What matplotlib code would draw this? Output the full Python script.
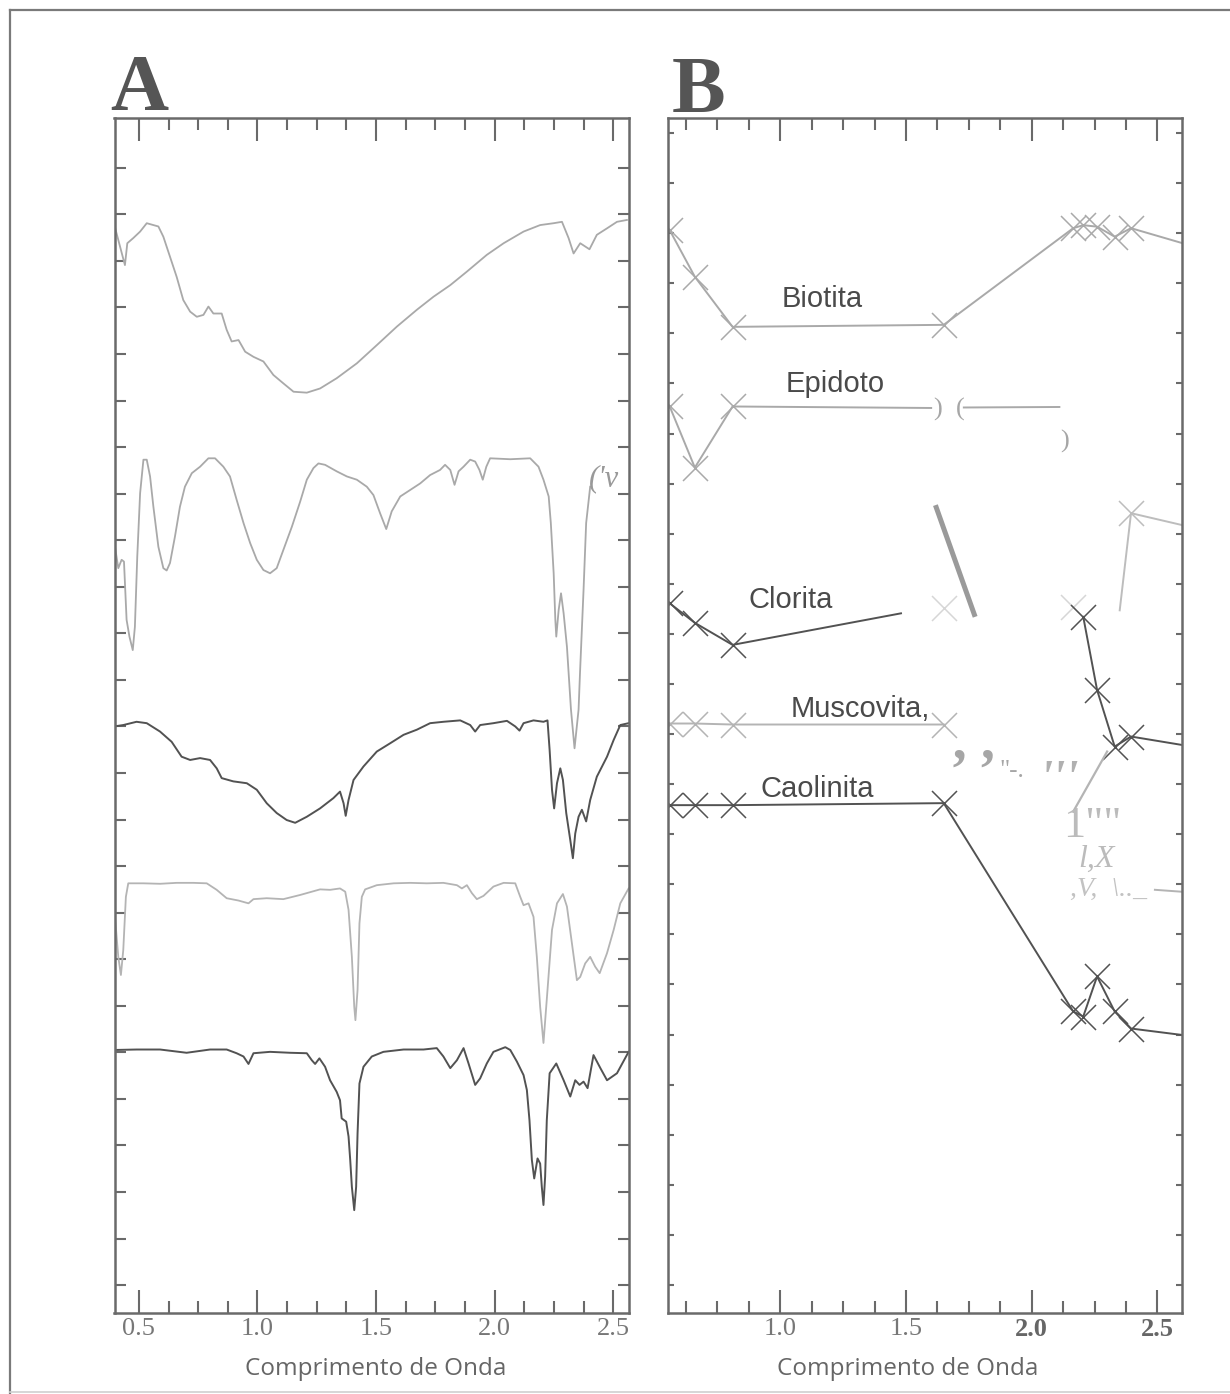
import matplotlib
matplotlib.use('Agg')
import matplotlib.pyplot as plt
from matplotlib.ticker import MultipleLocator, FixedLocator
from matplotlib.lines import Line2D

# ---------------- DATA ----------------
# Panel A: laboratory spectra (wavelength in um, reflectance with vertical offset, in tick units)
biotita_A_x = [0.40, 0.413, 0.441, 0.451, 0.476, 0.505, 0.533, 0.561, 0.582, 0.603, 0.631, 0.659, 0.687,
               0.716, 0.744, 0.772, 0.793, 0.814, 0.849, 0.870, 0.891, 0.920, 0.948, 0.983, 1.025, 1.067,
               1.109, 1.152, 1.208, 1.264, 1.334, 1.419, 1.503, 1.588, 1.672, 1.742, 1.813, 1.883, 1.967,
               2.038, 2.122, 2.192, 2.249, 2.284, 2.312, 2.333, 2.361, 2.400, 2.431, 2.474, 2.516, 2.558]
biotita_A_y = [22.70, 22.45, 21.91, 22.38, 22.49, 22.63, 22.81, 22.77, 22.74, 22.52, 22.09, 21.66, 21.16,
               20.91, 20.80, 20.84, 21.02, 20.87, 20.87, 20.52, 20.27, 20.30, 20.05, 19.94, 19.84, 19.55,
               19.37, 19.19, 19.17, 19.26, 19.48, 19.80, 20.19, 20.59, 20.95, 21.23, 21.48, 21.77, 22.13,
               22.38, 22.63, 22.77, 22.81, 22.84, 22.49, 22.16, 22.38, 22.25, 22.56, 22.70, 22.84, 22.88]

epidoto_A_x = [0.399, 0.413, 0.427, 0.437, 0.448, 0.460, 0.474, 0.483, 0.493, 0.505, 0.519, 0.533, 0.547,
               0.561, 0.582, 0.603, 0.617, 0.631, 0.652, 0.673, 0.694, 0.723, 0.758, 0.793, 0.821, 0.856,
               0.884, 0.912, 0.941, 0.969, 0.997, 1.025, 1.053, 1.081, 1.109, 1.145, 1.180, 1.208, 1.236,
               1.257, 1.285, 1.334, 1.377, 1.419, 1.461, 1.489, 1.517, 1.543, 1.566, 1.602, 1.644, 1.686,
               1.728, 1.770, 1.791, 1.813, 1.831, 1.848, 1.869, 1.897, 1.918, 1.936, 1.950, 1.965, 1.981,
               2.066, 2.150, 2.185, 2.206, 2.228, 2.237, 2.249, 2.256, 2.260, 2.270, 2.280, 2.291, 2.305,
               2.322, 2.337, 2.354, 2.360, 2.375, 2.386, 2.403]
epidoto_A_y = [15.86, 15.40, 15.58, 15.54, 14.29, 13.93, 13.64, 14.14, 15.65, 17.01, 17.73, 17.73, 17.37,
               16.72, 15.86, 15.40, 15.35, 15.51, 16.08, 16.72, 17.15, 17.44, 17.58, 17.76, 17.76, 17.58,
               17.37, 16.87, 16.37, 15.94, 15.58, 15.36, 15.29, 15.40, 15.79, 16.29, 16.83, 17.30, 17.55,
               17.65, 17.62, 17.48, 17.37, 17.30, 17.15, 16.97, 16.58, 16.24, 16.62, 16.94, 17.08, 17.22,
               17.40, 17.51, 17.62, 17.51, 17.19, 17.48, 17.58, 17.73, 17.69, 17.51, 17.30, 17.58, 17.76,
               17.74, 17.76, 17.58, 17.30, 16.94, 16.37, 15.29, 14.29, 13.93, 14.50, 14.86, 14.43, 13.71,
               12.36, 11.53, 12.36, 13.14, 14.93, 16.37, 17.15]

clorita_A_x = [0.397, 0.434, 0.490, 0.533, 0.589, 0.638, 0.680, 0.716, 0.758, 0.800, 0.828, 0.849, 0.898,
               0.955, 0.997, 1.039, 1.081, 1.123, 1.159, 1.208, 1.264, 1.320, 1.348, 1.363, 1.372, 1.384,
               1.405, 1.447, 1.503, 1.560, 1.616, 1.672, 1.728, 1.784, 1.855, 1.897, 1.918, 1.939, 1.995,
               2.052, 2.087, 2.105, 2.122, 2.164, 2.206, 2.223, 2.232, 2.242, 2.251, 2.263, 2.277, 2.288,
               2.302, 2.319, 2.330, 2.340, 2.354, 2.368, 2.386, 2.403, 2.431, 2.474, 2.502, 2.530, 2.565]
clorita_A_y = [12.00, 12.03, 12.10, 12.07, 11.89, 11.67, 11.35, 11.28, 11.32, 11.28, 11.10, 10.89, 10.82,
               10.78, 10.64, 10.35, 10.14, 9.99, 9.93, 10.06, 10.24, 10.46, 10.60, 10.35, 10.08, 10.42,
               10.85, 11.14, 11.46, 11.64, 11.82, 11.93, 12.07, 12.10, 12.13, 12.03, 11.89, 12.03, 12.07,
               12.12, 12.00, 11.91, 12.07, 12.13, 12.10, 12.13, 11.49, 10.64, 10.24, 10.78, 11.10, 10.85,
               10.14, 9.56, 9.17, 9.70, 10.06, 10.21, 9.96, 10.42, 10.92, 11.35, 11.71, 12.03, 12.07]

muscovita_A_x = [0.397, 0.399, 0.413, 0.424, 0.434, 0.445, 0.455, 0.519, 0.589, 0.659, 0.730, 0.786, 0.828,
                 0.870, 0.920, 0.962, 0.983, 1.039, 1.109, 1.180, 1.264, 1.306, 1.348, 1.370, 1.384, 1.398,
                 1.408, 1.413, 1.422, 1.430, 1.440, 1.454, 1.503, 1.574, 1.644, 1.714, 1.784, 1.841, 1.862,
                 1.883, 1.904, 1.925, 1.953, 1.995, 2.038, 2.087, 2.108, 2.122, 2.143, 2.164, 2.178, 2.192,
                 2.206, 2.223, 2.242, 2.263, 2.288, 2.305, 2.326, 2.347, 2.361, 2.382, 2.403, 2.424, 2.443,
                 2.474, 2.502, 2.530, 2.565]
muscovita_A_y = [7.48, 7.91, 7.05, 6.66, 7.20, 8.34, 8.63, 8.63, 8.62, 8.64, 8.64, 8.63, 8.49,
                 8.31, 8.26, 8.20, 8.29, 8.31, 8.29, 8.38, 8.50, 8.49, 8.52, 8.45, 8.06, 7.05,
                 5.98, 5.69, 6.34, 7.77, 8.34, 8.50, 8.59, 8.63, 8.64, 8.63, 8.64, 8.59, 8.52,
                 8.59, 8.42, 8.29, 8.36, 8.56, 8.64, 8.63, 8.34, 8.16, 8.20, 7.91, 7.05, 5.98,
                 5.20, 6.34, 7.63, 8.20, 8.40, 8.13, 7.34, 6.55, 6.62, 6.91, 7.05, 6.84, 6.70,
                 7.13, 7.63, 8.20, 8.52]

caolinita_A_x = [0.397, 0.490, 0.589, 0.701, 0.800, 0.870, 0.912, 0.941, 0.962, 0.983, 1.053, 1.137, 1.208,
                 1.229, 1.243, 1.261, 1.285, 1.306, 1.334, 1.348, 1.355, 1.374, 1.384, 1.391, 1.398, 1.408,
                 1.416, 1.422, 1.430, 1.447, 1.482, 1.531, 1.616, 1.700, 1.756, 1.784, 1.813, 1.841, 1.869,
                 1.890, 1.918, 1.939, 1.967, 1.995, 2.045, 2.066, 2.094, 2.122, 2.136, 2.147, 2.157, 2.167,
                 2.181, 2.192, 2.199, 2.206, 2.213, 2.220, 2.232, 2.260, 2.291, 2.319, 2.340, 2.358, 2.375,
                 2.392, 2.417, 2.446, 2.474, 2.516, 2.565]
caolinita_A_y = [5.05, 5.06, 5.06, 4.99, 5.06, 5.06, 4.98, 4.91, 4.75, 4.98, 5.01, 4.99, 4.98,
                 4.83, 4.75, 4.87, 4.69, 4.40, 4.15, 3.97, 3.58, 3.51, 3.19, 2.69, 2.11, 1.61,
                 2.11, 3.26, 4.33, 4.69, 4.91, 5.01, 5.06, 5.06, 5.09, 4.91, 4.66, 4.83, 5.09,
                 4.76, 4.30, 4.44, 4.76, 5.01, 5.11, 5.05, 4.80, 4.51, 4.19, 3.54, 2.69, 2.29,
                 2.72, 2.61, 2.11, 1.72, 2.33, 3.54, 4.55, 4.76, 4.40, 4.05, 4.40, 4.30, 4.37,
                 4.23, 4.94, 4.66, 4.40, 4.55, 5.01]

# Panel B: spectra resampled to the ASTER VNIR/SWIR bands (last point lies at the plot edge)
bandas = [0.56, 0.66, 0.81, 1.65, 2.165, 2.205, 2.26, 2.33, 2.395, 2.60]
biotita_B = [21.06, 20.13, 19.13, 19.17, 21.10, 21.16, 21.13, 20.93, 21.10, 20.80]
caolinita_B = [9.58, 9.58, 9.58, 9.62, 5.46, 5.36, 6.16, 5.46, 5.12, 4.99]

epidoto_B1_x = [0.56, 0.66, 0.81, 1.60]
epidoto_B1_y = [17.54, 16.32, 17.54, 17.51]
epidoto_B2_x = [1.73, 2.11]
epidoto_B2_y = [17.52, 17.53]
epidoto_B3_x = [2.35, 2.395, 2.60]
epidoto_B3_y = [13.47, 15.41, 15.17]

clorita_B1_x = [0.56, 0.66, 0.81, 1.48]
clorita_B1_y = [13.61, 13.22, 12.78, 13.41]
clorita_Bf_x = [1.65, 2.165]
clorita_Bf_y = [13.51, 13.54]
clorita_B2_x = [2.205, 2.26, 2.33, 2.395, 2.60]
clorita_B2_y = [13.34, 11.88, 10.75, 10.95, 10.78]

muscovita_B1_x = [0.56, 0.66, 0.81, 1.65]
muscovita_B1_y = [11.21, 11.21, 11.19, 11.19]
muscovita_B2_x = [2.165, 2.30]
muscovita_B2_y = [9.45, 10.65]
muscovita_B3_x = [2.49, 2.60]
muscovita_B3_y = [7.89, 7.85]

artefato_x = [1.617, 1.775]
artefato_y = [15.57, 13.34]

minerais = ["Biotita", "Epidoto", "Clorita", "Muscovita,", "Caolinita"]
xticks_major = [0.5, 1.0, 1.5, 2.0, 2.5]

# ---------------- FIGURE ----------------
W, H = 1230, 1394
fig = plt.figure(figsize=(W / 100, H / 100), dpi=100)

def fx(px):
    return px / W

def fy(py):
    return 1 - py / H

LIGHT = '#a9a9a9'
LIGHT2 = '#b4b4b4'
DARK = '#525252'
SPINE = '#6a6a6a'
SERIF = ['Liberation Serif', 'DejaVu Serif']
SANS = ['Liberation Sans', 'DejaVu Sans']

axA = fig.add_axes([fx(114.5), fy(1313), (628.6 - 114.5) / W, (1313 - 118) / H])
axB = fig.add_axes([fx(668.2), fy(1313), (1181.8 - 668.2) / W, (1313 - 118) / H])

def style(ax, ylen, nyt):
    for s in ax.spines.values():
        s.set_color(SPINE)
        s.set_linewidth(1.8)
    ax.xaxis.set_major_locator(FixedLocator(xticks_major))
    ax.xaxis.set_minor_locator(MultipleLocator(0.125))
    ax.yaxis.set_major_locator(FixedLocator(list(range(nyt))))
    ax.tick_params(axis='x', which='major', direction='in', top=True, bottom=True,
                   length=16.5, width=1.5, color=SPINE, pad=3.5,
                   labelsize=19, labelcolor='#777777')
    ax.tick_params(axis='x', which='minor', direction='in', top=True, bottom=True,
                   length=8.5, width=1.5, color=SPINE)
    ax.tick_params(axis='y', which='major', direction='in', left=True, right=True,
                   length=ylen, width=1.5, color=SPINE, labelleft=False)

# ----- Panel A -----
axA.plot(biotita_A_x, biotita_A_y, color=LIGHT, lw=1.3)
axA.plot(epidoto_A_x, epidoto_A_y, color=LIGHT, lw=1.3)
axA.plot(clorita_A_x, clorita_A_y, color=DARK, lw=1.4)
axA.plot(muscovita_A_x, muscovita_A_y, color=LIGHT2, lw=1.3)
axA.plot(caolinita_A_x, caolinita_A_y, color=DARK, lw=1.4)
axA.set_xlim(0.397, 2.565)
axA.set_ylim(-0.60, 25.07)
style(axA, 7.9, 25)
axA.set_xticklabels(['0.5', '1.0', '1.5', '2.0', '2.5'], fontfamily=SERIF)

# ----- Panel B -----
mk = dict(marker='x', markersize=18, markeredgewidth=1.1)
axB.plot(bandas, biotita_B, color=LIGHT, lw=1.4, markevery=list(range(9)), **mk)
axB.plot(epidoto_B1_x, epidoto_B1_y, color=LIGHT, lw=1.4, markevery=[0, 1, 2], **mk)
axB.plot(epidoto_B2_x, epidoto_B2_y, color=LIGHT, lw=1.4)
axB.plot(epidoto_B3_x, epidoto_B3_y, color='#bdbdbd', lw=1.4, markevery=[1], **mk)
axB.plot(clorita_B1_x, clorita_B1_y, color=DARK, lw=1.4, markevery=[0, 1, 2], **mk)
axB.plot(clorita_Bf_x, clorita_Bf_y, color='#d6d6d6', lw=0, **mk)
axB.plot(clorita_B2_x, clorita_B2_y, color=DARK, lw=1.4, markevery=[0, 1, 2, 3], **mk)
axB.plot(muscovita_B1_x, muscovita_B1_y, color=LIGHT2, lw=1.4, **mk)
axB.plot(muscovita_B2_x, muscovita_B2_y, color=LIGHT2, lw=1.6)
axB.plot(muscovita_B3_x, muscovita_B3_y, color=LIGHT2, lw=1.4)
axB.plot(bandas, caolinita_B, color=DARK, lw=1.4, markevery=list(range(9)), **mk)
axB.plot(artefato_x, artefato_y, color='#9a9a9a', lw=3.6, solid_capstyle='butt')
axB.set_xlim(0.554, 2.597)
axB.set_ylim(-0.56, 23.30)
style(axB, 4.5, 24)
axB.set_xticklabels(['', '1.0', '1.5', '2.0', '2.5'], fontfamily=SERIF)
for lab in axB.get_xticklabels():
    if lab.get_text() in ('2.0', '2.5'):
        lab.set_fontweight('bold')
        lab.set_color('#666666')

# mineral labels in panel B
lab_pos = [(782, 307), (786, 392), (749, 608), (791, 717), (760, 797)]
for name, (px, py) in zip(minerais, lab_pos):
    fig.text(fx(px), fy(py), name, fontsize=21, color='#4a4a4a', family=SANS,
             ha='left', va='baseline')

# scan artefacts (text left by the digitisation)
gray_txt = '#a6a6a6'
fig.text(fx(589), fy(464), "('v", fontsize=22, color='#999999', family=SERIF,
         style='italic', ha='left', va='top')
fig.text(fx(934), fy(398), ")  (", fontsize=19, color=gray_txt, family=SERIF,
         ha='left', va='top')
fig.text(fx(1060), fy(430), ")", fontsize=19, color=gray_txt, family=SERIF,
         ha='left', va='top')
fig.text(fx(950), fy(748), "\u2019 \u2019", fontsize=40, color=gray_txt, family=SERIF,
         weight='bold', ha='left', va='top')
fig.text(fx(999), fy(760), "\"-.", fontsize=18, color=gray_txt, family=SERIF,
         ha='left', va='top')
fig.text(fx(1040), fy(760), "'''", fontsize=34, color='#b0b0b0', family=SERIF,
         weight='bold', style='italic', ha='left', va='top')
fig.text(fx(1063), fy(806), "1\"\"", fontsize=32, color='#bbbbbb', family=SERIF,
         ha='left', va='top')
fig.text(fx(1078), fy(845), "l,X", fontsize=23, color='#bbbbbb', family=SERIF,
         style='italic', ha='left', va='top')
fig.text(fx(1070), fy(877), ",V,  \\.._", fontsize=20, color='#c2c2c2', family=SERIF,
         style='italic', ha='left', va='top')

# panel letters
fig.text(fx(110), fy(110), "A", fontsize=58, color='#555555', family=SERIF,
         weight='bold', ha='left', va='baseline')
fig.text(fx(672), fy(112), "B", fontsize=58, color='#555555', family=SERIF,
         weight='bold', ha='left', va='baseline')

# axis titles
for cx in (375.5, 908):
    fig.text(fx(cx), fy(1369), "Comprimento de Onda", fontsize=17.5, color='#666666',
             family=['Open Sans', 'DejaVu Sans'], ha='center', va='center')

# outer frame of the figure
fig.add_artist(Line2D([fx(10), fx(1230)], [fy(10), fy(10)], color='#7a7a7a', lw=1.6,
                      transform=fig.transFigure))
fig.add_artist(Line2D([fx(10), fx(10)], [fy(10), fy(1394)], color='#7a7a7a', lw=1.6,
                      transform=fig.transFigure))
fig.add_artist(Line2D([fx(10), fx(1230)], [fy(1392), fy(1392)], color='#d0d0d0', lw=1.2,
                      transform=fig.transFigure))

fig.savefig('out.png', dpi=100, facecolor='white')
